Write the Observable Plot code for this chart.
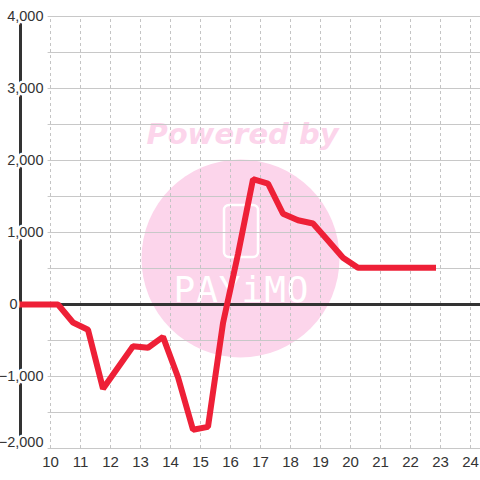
<!DOCTYPE html>
<html><head><meta charset="utf-8">
<script src="https://cdn.jsdelivr.net/npm/d3@7"></script>
<script src="https://cdn.jsdelivr.net/npm/@observablehq/plot@0.6"></script>
<style>body{margin:0;background:#fff}</style>
</head><body><div id="chart"></div>
<script>
const hours  = [9, 10.25, 10.75, 11.25, 11.75, 12.25, 12.75, 13.25, 13.75, 14.25, 14.75, 15.25, 15.75, 16.25, 16.75, 17.25, 17.75, 18.25, 18.75, 19.25, 19.75, 20.25, 20.75, 21.25, 21.75, 22.25, 22.75];
const values = [0, 0, -250, -350, -1170, -875, -580, -600, -450, -1010, -1740, -1700, -260, 700, 1740, 1680, 1260, 1170, 1125, 890, 650, 510, 510, 510, 510, 510, 510];
const xTicks = [10, 11, 12, 13, 14, 15, 16, 17, 18, 19, 20, 21, 22, 23, 24];
const yTicks = [-2000, -1000, 0, 1000, 2000, 3000, 4000];
const yGrid  = [-2000, -1500, -1000, -500, 0, 500, 1000, 1500, 2000, 2500, 3000, 3500, 4000];
const xDomain = [9, 24 + 1/3];
const yDomain = [-2000, 4000];

const data = hours.map((h, i) => ({h, v: values[i]}));
const fmt = d3.format(",");
const pink = "#fcd5eb";
const ink = "#333";

const mainY = yTicks.filter(d => d !== 0 && d !== yDomain[0]);

const plot = Plot.plot({
  width: 480, height: 480,
  marginLeft: 20, marginRight: 0, marginTop: 16, marginBottom: 32,
  x: {domain: xDomain, axis: null},
  y: {domain: yDomain, axis: null},
  style: {fontFamily: "'Liberation Sans', Arial, sans-serif", background: "#fff"},
  marks: [
    Plot.dot([0], {frameAnchor: "middle", dx: -10, dy: 26, r: 99, fill: pink, stroke: null}),
    Plot.text(["Powered by"], {frameAnchor: "middle", dx: -8, dy: -98, text: d => d, fill: pink,
      fontSize: 29, fontWeight: "bold", fontStyle: "italic", fontFamily: "'DejaVu Sans'"}),
    Plot.text(["PAYiMO"], {frameAnchor: "middle", dx: -9, dy: 58, text: d => d, fill: "#fff",
      fontSize: 36, fontWeight: 300, fontFamily: "'DejaVu Sans Mono', monospace", className: "logo"}),
    Plot.ruleY(yGrid, {x1: xTicks[0] - 0.08, x2: xDomain[1], stroke: "#c8c8c8", strokeWidth: 1}),
    Plot.ruleX(xTicks, {y1: yDomain[0], y2: yDomain[1], stroke: "#c4c4c4", strokeWidth: 1, strokeDasharray: "3,3"}),
    Plot.ruleX([xDomain[0]], {y1: yDomain[0], y2: yDomain[1], stroke: ink, strokeWidth: 3}),
    Plot.ruleY([0], {x1: xDomain[0], x2: xDomain[1], stroke: ink, strokeWidth: 3}),
    Plot.line(data, {x: "h", y: "v", stroke: "#ee2037", strokeWidth: 6, strokeLinejoin: "miter", strokeLinecap: "square"}),
    Plot.text(mainY, {x: xDomain[0], y: d => d, text: d => fmt(d), dx: 23, textAnchor: "end",
      fill: ink, stroke: "#fff", strokeWidth: 5, fontSize: 14.5}),
    Plot.text([0], {x: xDomain[0], y: d => d, text: d => fmt(d), dx: -3, textAnchor: "end",
      fill: ink, stroke: "#fff", strokeWidth: 5, fontSize: 14.5}),
    Plot.text([yDomain[0]], {x: xDomain[0], y: d => d, text: d => fmt(d), dx: 23, dy: -6, textAnchor: "end",
      fill: ink, stroke: "#fff", strokeWidth: 5, fontSize: 14.5}),
    Plot.text(xTicks, {x: d => d, y: yDomain[0], text: d => String(d), dy: 14,
      fill: ink, fontSize: 15})
  ]
});
document.getElementById("chart").appendChild(plot);

// logo phone outline inside the watermark circle (placed right after the logo text group)
const logoNode = plot.querySelector("g.logo");
const xS = plot.scale("x"), yS = plot.scale("y");
const cx = (xS.range[0] + xS.range[1]) / 2 - 10;
const cy = (yS.range[0] + yS.range[1]) / 2;
const rect = document.createElementNS("http://www.w3.org/2000/svg", "rect");
d3.select(rect)
  .attr("x", cx - 16).attr("y", cy - 27)
  .attr("width", 34).attr("height", 52)
  .attr("rx", 5)
  .attr("fill", "none").attr("stroke", "#fff").attr("stroke-width", 2.5);
logoNode.parentNode.insertBefore(rect, logoNode.nextSibling);
d3.select(logoNode).select("text").attr("letter-spacing", "1px");
</script>
</body></html>
